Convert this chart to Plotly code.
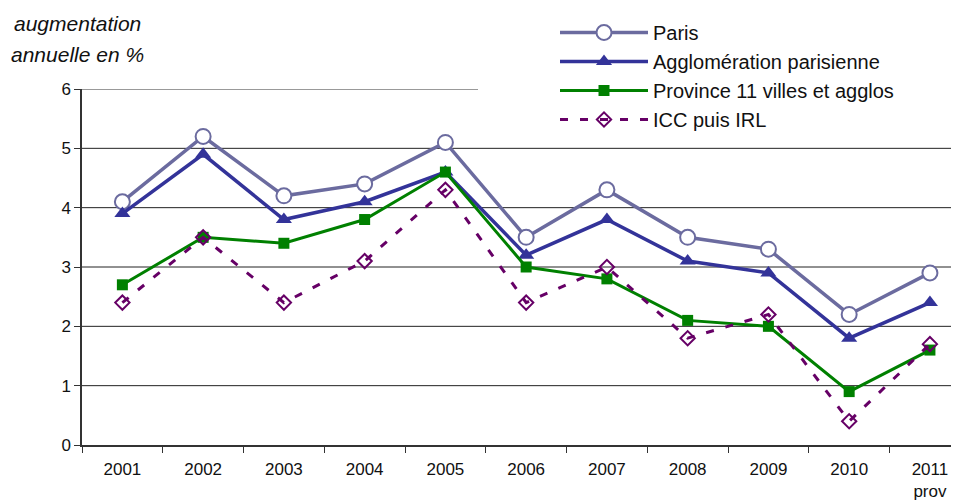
import plotly.graph_objects as go

years = ["2001", "2002", "2003", "2004", "2005", "2006", "2007", "2008", "2009", "2010", "2011<br>prov"]
paris = [4.1, 5.2, 4.2, 4.4, 5.1, 3.5, 4.3, 3.5, 3.3, 2.2, 2.9]
agglo = [3.9, 4.9, 3.8, 4.1, 4.6, 3.2, 3.8, 3.1, 2.9, 1.8, 2.4]
province = [2.7, 3.5, 3.4, 3.8, 4.6, 3.0, 2.8, 2.1, 2.0, 0.9, 1.6]
icc = [2.4, 3.5, 2.4, 3.1, 4.3, 2.4, 3.0, 1.8, 2.2, 0.4, 1.7]
y_ticks = [0, 1, 2, 3, 4, 5, 6]

FONT = "Liberation Sans, Arial, sans-serif"
OFF = 8  # page body margin
W, H = 959 - OFF, 504 - OFF
L, T = 82 - OFF, 89 - OFF
B = H - (445 - OFF)
PW, PH = W - L, H - T - B


def px_x(xpage):
    return (xpage - OFF - L) / PW


def px_y(ypage):
    return 1 + (T - (ypage - OFF)) / PH


fig = go.Figure()
fig.add_trace(go.Scatter(
    x=years, y=paris, name="Paris", mode="lines+markers",
    line=dict(color="#6B6B9F", width=3.5),
    marker=dict(symbol="circle", size=15, color="white", line=dict(color="#6B6B9F", width=2))))
fig.add_trace(go.Scatter(
    x=years, y=agglo, name="Agglomération parisienne", mode="lines+markers",
    line=dict(color="#333399", width=3.5),
    marker=dict(symbol="triangle-up", size=14, color="#333399")))
fig.add_trace(go.Scatter(
    x=years, y=province, name="Province 11 villes et agglos", mode="lines+markers",
    line=dict(color="#008000", width=3),
    marker=dict(symbol="square", size=11, color="#008000")))
fig.add_trace(go.Scatter(
    x=years, y=icc, name="ICC puis IRL", mode="lines+markers",
    line=dict(color="#660066", width=3, dash="8px,12px"),
    marker=dict(symbol="diamond-open", size=11, color="#660066", line=dict(width=2))))

shapes = []
for v in y_ticks[1:-1]:
    shapes.append(dict(type="line", xref="paper", yref="y", x0=0, x1=1, y0=v, y1=v,
                       line=dict(color="#222222", width=1), layer="below"))
shapes.append(dict(type="line", xref="paper", yref="y", x0=0, x1=px_x(478), y0=6, y1=6,
                   line=dict(color="#999999", width=2), layer="below"))

fig.update_layout(
    width=W, height=H,
    margin=dict(l=L, r=0, t=T, b=B, pad=0),
    paper_bgcolor="white", plot_bgcolor="white",
    font=dict(family=FONT, size=17, color="#111111"),
    shapes=shapes,
    showlegend=True,
    legend=dict(x=px_x(555), xanchor="left", y=px_y(13), yanchor="top",
                bgcolor="rgba(255,255,255,0)", font=dict(size=20, family=FONT, color="#111111"),
                traceorder="normal", itemwidth=88),
    xaxis=dict(type="category", range=[-0.5, 10.36], showgrid=False, showline=True,
               linecolor="#333333", linewidth=1.5, ticks="outside", ticklen=6, tickcolor="#333333",
               tickson="boundaries", tickfont=dict(size=17, family=FONT, color="#111111"),
               ticklabelstandoff=8, zeroline=False),
    yaxis=dict(range=[0, 6], tickvals=y_ticks, showgrid=False, showline=True,
               linecolor="#333333", linewidth=1.5, ticks="outside", ticklen=6, tickcolor="#333333",
               tickfont=dict(size=17, family=FONT, color="#111111"), zeroline=False),
    annotations=[
        dict(text="<i>augmentation</i>", xref="paper", yref="paper", x=px_x(77), y=px_y(24),
             xanchor="center", yanchor="middle", showarrow=False, font=dict(size=21, family=FONT)),
        dict(text="<i>annuelle en %</i>", xref="paper", yref="paper", x=px_x(77), y=px_y(54),
             xanchor="center", yanchor="middle", showarrow=False, font=dict(size=21, family=FONT)),
    ],
)

fig.write_html("out.html")
